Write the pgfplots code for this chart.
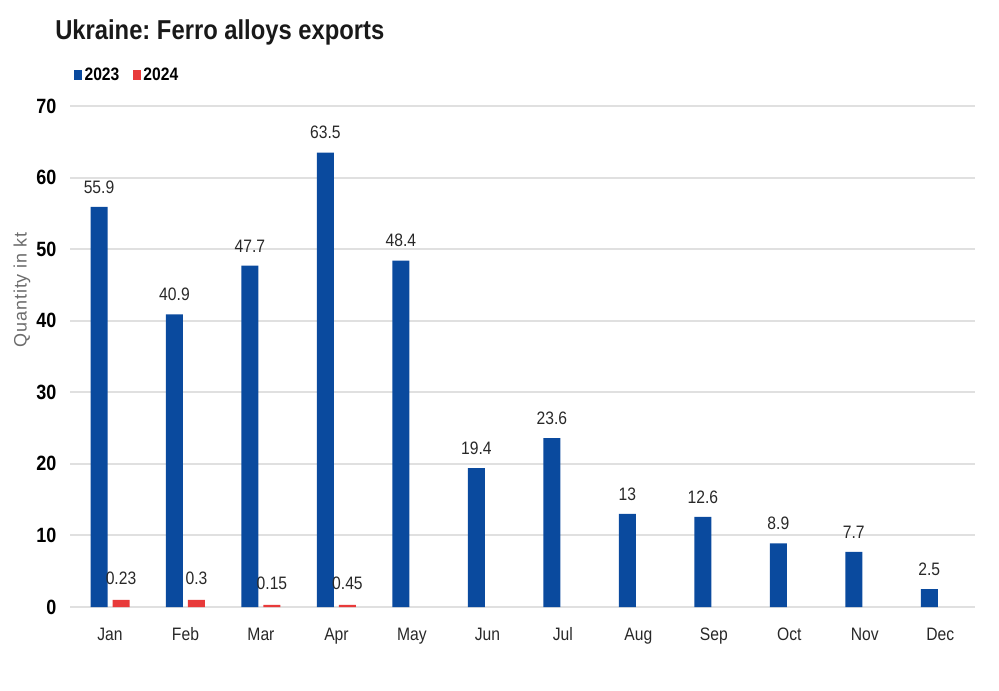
\documentclass[border=0pt]{standalone}
\usepackage{pgfplots}
\pgfplotsset{compat=1.18}
\usepackage{fontspec}
\setmainfont{Liberation Sans}[FakeStretch=0.87]
\newfontfamily\plainfont{Liberation Sans}[LetterSpace=5]
\definecolor{cblue}{RGB}{10,74,158}
\definecolor{cred}{RGB}{232,58,58}
\definecolor{gridc}{RGB}{224,224,224}
\definecolor{txt}{RGB}{40,40,40}
\frenchspacing
\begin{document}
\begin{tikzpicture}
\path[use as bounding box] (0,0) rectangle (749.25pt,517.5pt);
\node[anchor=base west, font=\bfseries\fontsize{20.5}{24}\selectfont, text=black!90, inner sep=0pt] at (41.25pt,487.5pt) {Ukraine: Ferro alloys exports};
\begin{axis}[
  at={(52.5pt,62.25pt)}, anchor=south west,
  scale only axis, width=678.75pt, height=375.75pt,
  ymin=0, ymax=70, ytick={0,10,...,70},
  xmin=-0.53, xmax=11.46,
  xtick={0,...,11},
  xticklabels={Jan,Feb,Mar,Apr,May,Jun,Jul,Aug,Sep,Oct,Nov,Dec},
  axis line style={draw=none},
  tick style={draw=none},
  ymajorgrids, grid style={gridc, line width=1.5pt},
  /pgf/number format/assume math mode=true,
  yticklabel style={font=\bfseries\fontsize{15.5}{16}\selectfont, text=black, inner sep=0pt, xshift=-10pt},
  xticklabel style={font=\fontsize{13.5}{14}\selectfont, text=txt, inner sep=0pt, anchor=base, yshift=-20.5pt},
  ylabel={Quantity in kt},
  ylabel style={at={(axis description cs:-0.053,0.633)}, anchor=center, font=\plainfont\fontsize{13.5}{14}\selectfont, text=gray!85!black},
  ybar=3.75pt, bar width=12.75pt,
  nodes near coords,
  nodes near coords style={font=\fontsize{13.5}{14}\selectfont, text=txt, inner sep=0pt, anchor=south},
  legend style={draw=none, fill=none, at={(0.004,1.062)}, anchor=west, legend columns=-1,
    font=\bfseries\fontsize{13.5}{14}\selectfont, inner sep=0pt,
    /tikz/every even column/.append style={column sep=8pt}},
  legend image code/.code={\fill[#1] (0pt,-3.5pt) rectangle (6pt,3.5pt);},
]
\addplot[fill=cblue, draw=none, nodes near coords style={yshift=10pt}] coordinates {
 (0,55.9) (1,40.9) (2,47.7) (3,63.5) (4,48.4) (5,19.4)
 (6,23.6) (7,13) (8,12.6) (9,8.9) (10,7.7) (11,2.5)};
\addplot[fill=cred, draw=none, point meta=explicit symbolic, nodes near coords style={yshift=11.5pt}] coordinates {
 (0,1.0) [0.23] (1,1.0) [0.3] (2,0.3) [0.15] (3,0.3) [0.45]};
\legend{2023,2024}
\end{axis}
\end{tikzpicture}
\end{document}
